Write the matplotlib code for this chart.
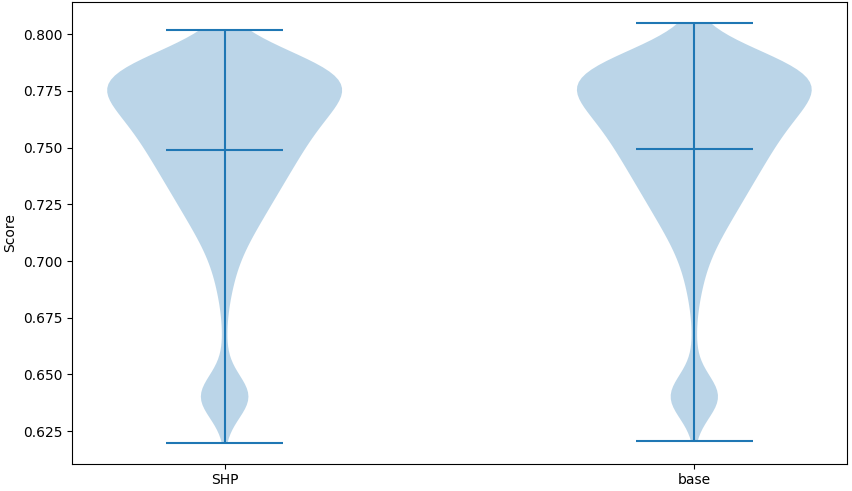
import numpy as np
import matplotlib
matplotlib.use("Agg")
import matplotlib.pyplot as plt

# score levels and how many runs landed on each one
shp_levels = [0.620, 0.630, 0.635, 0.640, 0.645, 0.650, 0.655, 0.660, 0.665,
              0.670, 0.675, 0.680, 0.685, 0.690, 0.695, 0.700, 0.705, 0.710,
              0.715, 0.720, 0.725, 0.730, 0.735, 0.740, 0.745, 0.750, 0.755,
              0.760, 0.765, 0.770, 0.775, 0.780, 0.785, 0.790, 0.795, 0.800,
              0.802]
shp_counts = [1, 3, 12, 19, 13, 3, 1, 1, 1,
              1, 1, 2, 3, 4, 5, 7, 9, 12,
              15, 18, 21, 24, 27, 30, 33, 36, 39,
              43, 47, 52, 57, 59, 52, 36, 20, 9,
              3]

base_levels = [0.6205, 0.630, 0.635, 0.640, 0.645, 0.650, 0.655, 0.660, 0.665,
               0.670, 0.675, 0.680, 0.685, 0.690, 0.695, 0.700, 0.705, 0.710,
               0.715, 0.720, 0.725, 0.730, 0.735, 0.740, 0.745, 0.750, 0.755,
               0.760, 0.765, 0.770, 0.775, 0.780, 0.785, 0.790, 0.795, 0.800,
               0.805]
base_counts = [1, 3, 12, 19, 13, 3, 1, 1, 1,
               1, 1, 2, 3, 4, 5, 7, 9, 12,
               15, 18, 21, 24, 27, 30, 33, 36, 39,
               43, 47, 52, 57, 59, 53, 38, 21, 9,
               3]

labels = ["SHP", "base"]


def main():
    shp = np.repeat(shp_levels, shp_counts)
    base = np.repeat(base_levels, base_counts)

    fig, ax = plt.subplots(figsize=(8.52, 4.91), dpi=100)
    ax.violinplot([shp, base], positions=[1, 2], showmeans=True, bw_method=0.2)
    ax.set_xticks([1, 2])
    ax.set_xticklabels(labels)
    ax.set_ylabel("Score")
    fig.subplots_adjust(left=0.0845, right=0.9941, top=0.996, bottom=0.056)
    fig.savefig("out.png", dpi=100)


if __name__ == "__main__":
    main()
